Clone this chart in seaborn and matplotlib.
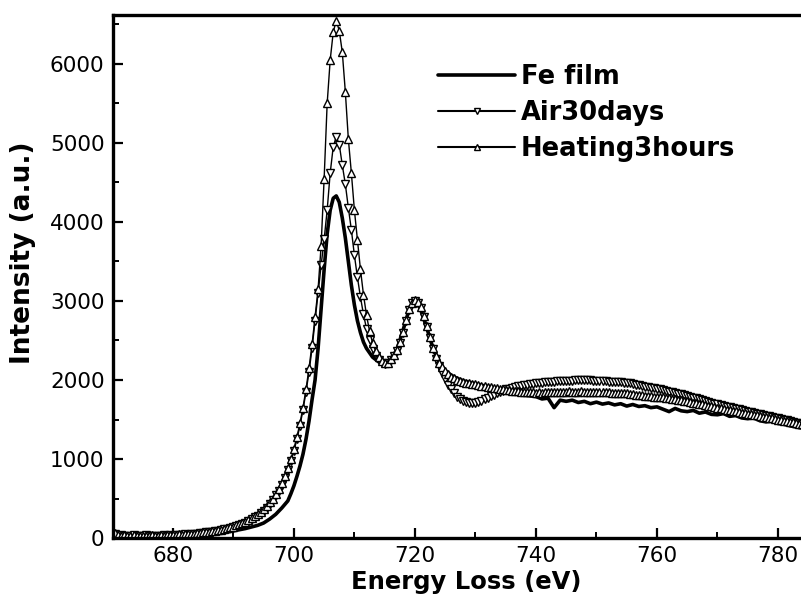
import numpy as np
import pandas as pd
import matplotlib
matplotlib.use("Agg")
import matplotlib.pyplot as plt
from matplotlib.ticker import MultipleLocator
import seaborn as sns

# Energy grid (eV) for the two oxidised samples, 0.5 eV step
energy = np.arange(670.0, 784.01, 0.5)

heating_3h = [
    45, 60, 40, 30, 35, 25, 30, 40, 30, 25,
    30, 25, 30, 35, 25, 30, 35, 30, 40, 35,
    35, 40, 45, 40, 45, 50, 55, 55, 60, 65,
    70, 75, 80, 85, 90, 100, 105, 115, 125, 135,
    145, 160, 175, 190, 205, 225, 250, 275, 300, 330,
    365, 405, 450, 500, 560, 625, 700, 790, 890, 1000,
    1130, 1280, 1450, 1650, 1880, 2150, 2450, 2800, 3150, 3700,
    4550, 5500, 6050, 6400, 6550, 6420, 6150, 5650, 5050, 4620,
    4150, 3770, 3400, 3080, 2820, 2620, 2470, 2370, 2290, 2240,
    2215, 2220, 2260, 2320, 2380, 2480, 2610, 2760, 2900, 2980,
    3010, 2990, 2920, 2810, 2680, 2540, 2410, 2300, 2220, 2160,
    2110, 2070, 2040, 2020, 2000, 1985, 1975, 1965, 1958, 1950,
    1945, 1938, 1930, 1922, 1915, 1908, 1900, 1895, 1890, 1883,
    1877, 1870, 1865, 1860, 1855, 1852, 1850, 1847, 1845, 1842,
    1840, 1842, 1838, 1845, 1842, 1848, 1845, 1850, 1847, 1852,
    1850, 1855, 1850, 1853, 1848, 1855, 1850, 1852, 1848, 1850,
    1850, 1845, 1848, 1842, 1845, 1838, 1840, 1835, 1836, 1830,
    1830, 1825, 1822, 1815, 1812, 1805, 1803, 1797, 1795, 1790,
    1790, 1783, 1780, 1772, 1768, 1760, 1755, 1748, 1742, 1735,
    1730, 1722, 1715, 1707, 1700, 1690, 1683, 1675, 1665, 1658,
    1650, 1642, 1635, 1625, 1618, 1610, 1603, 1595, 1588, 1580,
    1575, 1567, 1560, 1552, 1545, 1537, 1530, 1522, 1515, 1507,
    1500, 1493, 1485, 1478, 1470, 1463, 1455, 1448, 1440,
]

air_30d = [
    30, 45, 25, 35, 20, 30, 25, 35, 20, 30,
    25, 35, 30, 20, 30, 25, 30, 35, 25, 35,
    30, 35, 40, 35, 45, 40, 50, 50, 55, 60,
    65, 70, 75, 80, 85, 95, 100, 110, 120, 130,
    140, 150, 165, 180, 195, 215, 235, 260, 285, 315,
    345, 385, 430, 480, 540, 600, 675, 760, 860, 970,
    1100, 1250, 1420, 1620, 1850, 2100, 2400, 2750, 3100, 3450,
    3780, 4150, 4620, 4950, 5080, 4980, 4720, 4480, 4180, 3900,
    3580, 3300, 3050, 2830, 2650, 2500, 2390, 2310, 2250, 2215,
    2200, 2210, 2250, 2310, 2370, 2470, 2600, 2750, 2890, 2970,
    3000, 2980, 2910, 2800, 2670, 2530, 2390, 2270, 2180, 2090,
    2010, 1940, 1880, 1830, 1790, 1760, 1740, 1725, 1715, 1712,
    1715, 1725, 1740, 1755, 1775, 1795, 1815, 1835, 1850, 1865,
    1880, 1890, 1900, 1910, 1920, 1928, 1935, 1942, 1950, 1955,
    1960, 1965, 1968, 1972, 1975, 1978, 1980, 1983, 1985, 1988,
    1990, 1992, 1993, 1995, 1995, 1996, 1995, 1995, 1994, 1993,
    1990, 1988, 1986, 1983, 1980, 1977, 1975, 1972, 1970, 1968,
    1965, 1958, 1950, 1942, 1935, 1925, 1917, 1908, 1900, 1895,
    1890, 1880, 1872, 1862, 1853, 1845, 1835, 1826, 1817, 1808,
    1800, 1790, 1778, 1767, 1755, 1745, 1733, 1722, 1711, 1700,
    1690, 1680, 1672, 1662, 1653, 1645, 1636, 1627, 1618, 1609,
    1600, 1592, 1583, 1575, 1566, 1558, 1549, 1540, 1532, 1523,
    1515, 1506, 1498, 1489, 1480, 1471, 1462, 1453, 1445,
]

# Fe film spectrum (solid line, own sampling)
fe_energy = [
    670, 671, 672, 673, 674, 675, 676, 677, 678, 679,
    680, 681, 682, 683, 684, 685, 686, 687, 688, 689,
    690, 691, 692, 693, 694, 695, 696, 697, 698, 699,
    699.5, 700, 700.5, 701, 701.5, 702, 702.5, 703, 703.5, 704,
    704.5, 705, 705.5, 706, 706.5, 707, 707.5, 708, 708.5, 709,
    709.5, 710, 710.5, 711, 711.5, 712, 713, 714, 715, 716,
    717, 718, 719, 719.5, 720, 720.5, 721, 722, 723, 724,
    725, 726, 727, 728, 729, 730, 731, 732, 733, 734,
    735, 736, 737, 738, 739, 740, 741, 742, 743, 744,
    745, 746, 747, 748, 749, 750, 751, 752, 753, 754,
    755, 756, 757, 758, 759, 760, 761, 762, 763, 764,
    765, 766, 767, 768, 769, 770, 771, 772, 773, 774,
    775, 776, 777, 778, 779, 780, 781, 782, 783, 784,
]
fe_film = [
    20, 15, 25, 10, 20, 15, 20, 25, 15, 20,
    25, 20, 30, 25, 35, 40, 45, 55, 60, 75,
    90, 105, 120, 140, 160, 190, 240, 300, 380, 470,
    560, 660, 780, 910, 1060, 1250, 1480, 1750, 2000, 2400,
    2900, 3400, 3850, 4150, 4300, 4330, 4250, 4050, 3800, 3500,
    3200, 2950, 2750, 2600, 2480, 2400, 2290, 2230, 2210, 2250,
    2380, 2620, 2880, 2960, 2990, 2960, 2880, 2650, 2400, 2220,
    2120, 2060, 2020, 1990, 1970, 1950, 1935, 1915, 1900, 1880,
    1865, 1845, 1830, 1810, 1800, 1790, 1760, 1770, 1650, 1745,
    1730, 1745, 1715, 1730, 1700, 1720, 1695, 1710, 1685, 1700,
    1670, 1690, 1665, 1675, 1650, 1660, 1630, 1600, 1640, 1610,
    1600, 1615, 1580, 1595, 1565, 1560, 1575, 1540, 1550, 1520,
    1510, 1520, 1485, 1470, 1480, 1450, 1440, 1420, 1405, 1390,
]

x_ticks = [680, 700, 720, 740, 760, 780]
y_ticks = [0, 1000, 2000, 3000, 4000, 5000, 6000]

sns.set_theme(style="white")
plt.rcParams["font.family"] = ["DejaVu Sans"]
plt.rcParams["text.color"] = "black"
plt.rcParams["axes.labelcolor"] = "black"
plt.rcParams["xtick.color"] = "black"
plt.rcParams["ytick.color"] = "black"

fig = plt.figure(figsize=(8.01, 5.99), dpi=100)
ax = fig.add_axes([0.141, 0.1018, 0.859, 0.8732])

tri_style = dict(color="black", linewidth=1.0, ms=5.6, mfc="white",
                 mec="black", mew=1.0, sort=False, estimator=None)

sns.lineplot(x=fe_energy, y=fe_film, ax=ax, color="black", linewidth=2.6,
             label="Fe film", sort=False, estimator=None)
sns.lineplot(x=energy, y=air_30d, ax=ax, marker="v", label="Air30days",
             **tri_style)
sns.lineplot(x=energy, y=heating_3h, ax=ax, marker="^", label="Heating3hours",
             **tri_style)

ax.set_xlim(670.1, 783.8)
ax.set_ylim(0, 6620)
ax.set_xticks(x_ticks)
ax.set_yticks(y_ticks)
ax.xaxis.set_minor_locator(MultipleLocator(10))
ax.yaxis.set_minor_locator(MultipleLocator(500))

ax.tick_params(axis="both", which="major", direction="in", length=7, width=1.6,
               labelsize=15.5, pad=6,
               bottom=True, left=True, top=False, right=False)
ax.tick_params(axis="both", which="minor", direction="in", length=4, width=1.4,
               bottom=True, left=True, top=False, right=False)

for side in ["left", "bottom", "top"]:
    ax.spines[side].set_visible(True)
    ax.spines[side].set_color("black")
    ax.spines[side].set_linewidth(2.4)
ax.spines["right"].set_visible(False)

ax.set_xlabel("Energy Loss (eV)", fontsize=17.5, fontweight="bold")
ax.set_ylabel("Intensity (a.u.)", fontsize=19, fontweight="bold")
ax.xaxis.set_label_coords(0.513, -0.061)
ax.yaxis.set_label_coords(-0.112, 0.545)

leg = ax.legend(loc="upper left", bbox_to_anchor=(0.443, 0.945), frameon=False,
                fontsize=18.5, handlelength=3.0, handletextpad=0.2,
                labelspacing=0.38, numpoints=1, markerscale=0.75,
                borderpad=0.3)
for t in leg.get_texts():
    t.set_fontweight("bold")
for h in leg.get_lines()[1:]:
    h.set_linewidth(1.5)

fig.savefig("out.png", dpi=100)
